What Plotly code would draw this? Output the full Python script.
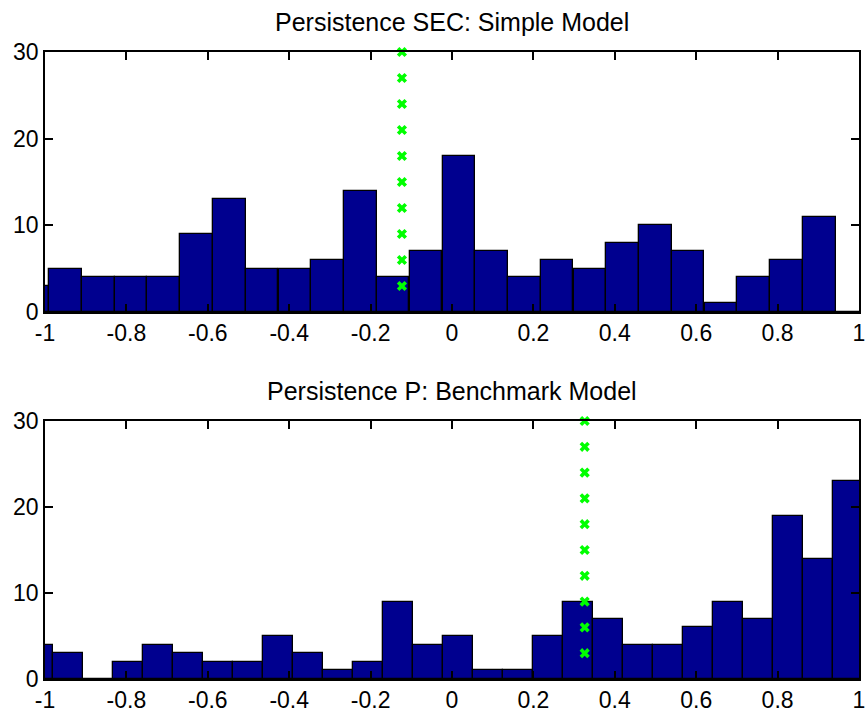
import plotly.graph_objects as go
from plotly.subplots import make_subplots

# bin centres and counts
sec_centers = [-1.030, -0.950, -0.869, -0.789, -0.708, -0.628, -0.547, -0.467, -0.386,
               -0.306, -0.225, -0.145, -0.064, 0.017, 0.097, 0.178, 0.258, 0.339,
               0.419, 0.500, 0.580, 0.661, 0.741, 0.822, 0.902, 0.983]
sec_counts = [3, 5, 4, 4, 4, 9, 13, 5, 5, 6, 14, 4, 7, 18, 7, 4, 6, 5, 8, 10, 7, 1, 4, 6, 11, 0]

p_centers = [-1.018, -0.944, -0.870, -0.797, -0.723, -0.649, -0.575, -0.502, -0.428,
             -0.354, -0.281, -0.207, -0.133, -0.060, 0.014, 0.088, 0.162, 0.235,
             0.309, 0.383, 0.456, 0.530, 0.604, 0.678, 0.751, 0.825, 0.899, 0.972]
p_counts = [4, 3, 0, 2, 4, 3, 2, 2, 5, 3, 1, 2, 9, 4, 5, 1, 1, 5, 9, 7, 4, 4, 6, 9, 7, 19, 14, 23]

# green marker columns (point estimates)
sec_mark_x = [-0.123] * 10
p_mark_x = [0.326] * 10
mark_y = [3, 6, 9, 12, 15, 18, 21, 24, 27, 30]

x_ticks = [-1, -0.8, -0.6, -0.4, -0.2, 0, 0.2, 0.4, 0.6, 0.8, 1]
x_tick_text = ["-1", "-0.8", "-0.6", "-0.4", "-0.2", "0", "0.2", "0.4", "0.6", "0.8", "1"]
y_ticks = [0, 10, 20, 30]

titles = ["Persistence SEC: Simple Model", "Persistence P: Benchmark Model"]

FONT = "Liberation Sans, Arial, sans-serif"
BAR = "rgb(0,0,143)"

fig = make_subplots(rows=2, cols=1, vertical_spacing=0.0)

fig.add_trace(go.Bar(x=sec_centers, y=sec_counts, width=0.0805, marker_color=BAR,
                     marker_line=dict(color="black", width=1.3)), row=1, col=1)
fig.add_trace(go.Scatter(x=sec_mark_x, y=mark_y, mode="markers",
                         marker=dict(symbol="x", size=9, color="rgb(0,255,0)"),
                         cliponaxis=False), row=1, col=1)
fig.add_trace(go.Bar(x=p_centers, y=p_counts, width=0.0737, marker_color=BAR,
                     marker_line=dict(color="black", width=1.3)), row=2, col=1)
fig.add_trace(go.Scatter(x=p_mark_x, y=mark_y, mode="markers",
                         marker=dict(symbol="x", size=9, color="rgb(0,255,0)"),
                         cliponaxis=False), row=2, col=1)

axis_style = dict(showline=True, linecolor="black", linewidth=1.5, mirror="ticks",
                  ticks="inside", ticklen=8, tickwidth=1.5, tickcolor="black",
                  showgrid=False, zeroline=False, automargin=False,
                  ticklabeloverflow="allow",
                  tickfont=dict(family=FONT, size=23, color="black"))

fig.update_xaxes(range=[-1, 1], tickvals=x_ticks, ticktext=x_tick_text, **axis_style)
fig.update_yaxes(range=[0, 30], tickvals=y_ticks, **axis_style)

fig.update_layout(
    width=865, height=708,
    margin=dict(l=45, r=6, t=52, b=29),
    paper_bgcolor="white", plot_bgcolor="white",
    showlegend=False, bargap=0,
    yaxis=dict(domain=[0.5853, 1.0]),
    yaxis2=dict(domain=[0.0, 0.4115]),
)

for title, ypos in zip(titles, [1.0478, 0.4593]):
    fig.add_annotation(text=title, xref="paper", yref="paper", x=0.5, y=ypos,
                       xanchor="center", yanchor="middle", showarrow=False,
                       font=dict(family=FONT, size=25, color="black"))

# drop the default page margin so the figure fills the window exactly
fig.write_html("out.html", config={"displayModeBar": False},
               post_script="document.body.style.margin='0';document.body.style.overflow='hidden';")
